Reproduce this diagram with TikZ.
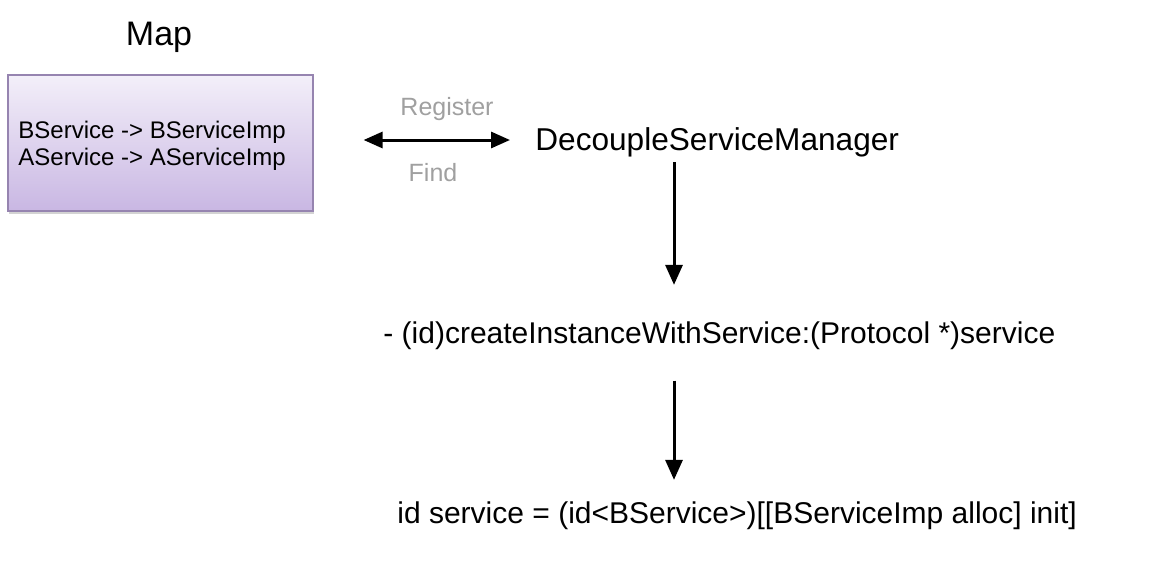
\documentclass[tikz,border=0pt]{standalone}
\usepackage{fontspec}
\setmainfont{Liberation Sans}
\usetikzlibrary{arrows.meta,shadows}

\definecolor{maptop}{RGB}{243,239,249}
\definecolor{mapbot}{RGB}{201,183,227}
\definecolor{mapline}{RGB}{150,132,176}
\definecolor{labelgray}{RGB}{160,160,160}

\begin{document}
\begin{tikzpicture}[x=0.5pt,y=-0.5pt,
	txt/.style={inner sep=0pt,anchor=base west},
	code/.style={txt,font=\fontsize{15}{18}\selectfont},
	flow/.style={line width=1.5pt,-{Triangle[length=10pt,width=8.5pt]}},
	both/.style={line width=1.5pt,{Triangle[length=9.5pt,width=8pt]}-{Triangle[length=9.5pt,width=8pt]}}]
			\useasboundingbox (0,0) rectangle (1150,578);
			\node (title) at (159,37) {\fontsize{17}{20}\selectfont Map};
			\node[draw=mapline,line width=0.6pt,top color=maptop,bottom color=mapbot,
				drop shadow={shadow xshift=0.6pt,shadow yshift=-1.5pt,opacity=0.35},
				minimum width=152.5pt,minimum height=68pt] (map) at (160.5,143) {};
			\node[inner sep=0pt,anchor=west,align=left,font=\fontsize{12}{13.5}\selectfont]
				(pairs) at (18,146) {BService -> BServiceImp\\AService -> AServiceImp};
			
			\node[txt,font=\fontsize{15.8}{19}\selectfont] (manager) at (535,150) {DecoupleServiceManager};
			\node[text=labelgray,font=\fontsize{12.5}{15}\selectfont] (reg) at (447,109) {Register};
			\node[text=labelgray,font=\fontsize{12.5}{15}\selectfont] (find) at (433,173) {Find};
			\draw[both,shorten <=25pt,shorten >=12.5pt] (map.east |- 0,140) -- (manager.west |- 0,140);
			
			\node[code] (create) at (383,343) {- (id)createInstanceWithService:(Protocol *)service};
			\node[code] (instance) at (397,523) {id service = (id<BService>)[[BServiceImp alloc] init]};
			\draw[flow,shorten <=2.7pt,shorten >=18pt] (manager.south -| 674,0) -- (create.north -| 674,0);
			\draw[flow,shorten <=15.5pt,shorten >=10.5pt] (create.south -| 674,0) -- (instance.north -| 674,0);
			\end{tikzpicture}
\end{document}
